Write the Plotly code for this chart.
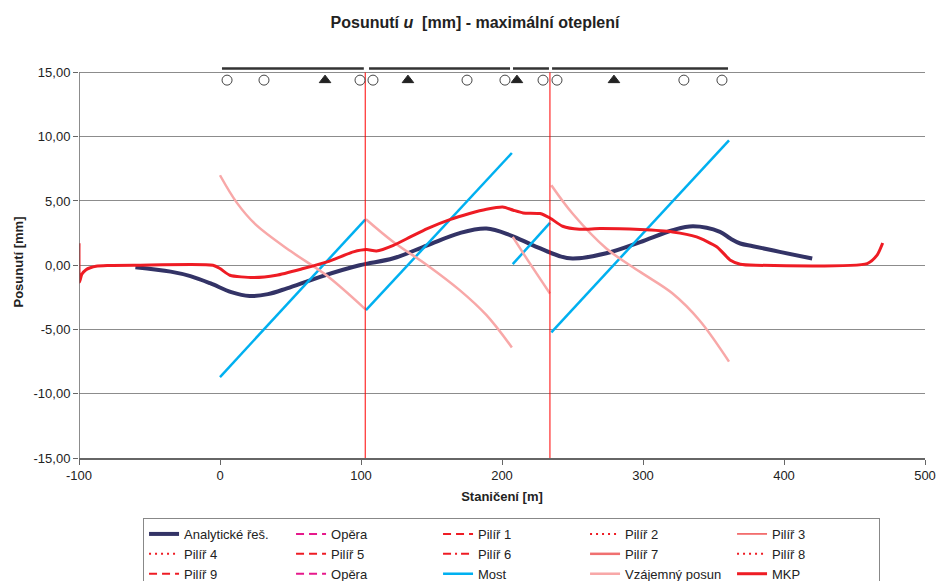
import plotly.graph_objects as go

# ---------------- data ----------------
analytic_x = [-60, -35, -21, -7, 8, 21, 34, 47.5, 71, 99, 123, 147, 170, 189, 206, 222, 241, 250, 274, 298, 321, 335.5, 354.6, 362, 369, 378, 397, 420]
analytic_y = [-0.16, -0.5, -0.85, -1.4, -2.1, -2.4, -2.25, -1.8, -0.9, 0.0, 0.54, 1.55, 2.5, 2.85, 2.33, 1.55, 0.7, 0.52, 0.93, 1.8, 2.72, 3.03, 2.6, 2.07, 1.69, 1.48, 1.04, 0.52]

mkp_x = [-100, -99.6, -98, -95, -92, -88, -80, -60, -5, 0, 7, 23.6, 40, 59, 76, 94.6, 104, 111, 123, 135, 147, 163, 177, 189, 200.5, 208, 215, 227, 234, 243, 255, 269.5, 298, 321, 338, 352.5, 362, 369, 380, 459, 466, 470]
mkp_y = [1.7, -1.3, -0.7, -0.35, -0.2, -0.08, -0.02, 0, 0, -0.26, -0.78, -0.96, -0.78, -0.26, 0.26, 1.04, 1.22, 1.11, 1.55, 2.2, 2.85, 3.55, 4.02, 4.35, 4.53, 4.28, 4.07, 4.02, 3.67, 3.03, 2.8, 2.85, 2.77, 2.59, 2.2, 1.42, 0.39, 0.08, 0.0, 0.13, 0.78, 1.73]

most_x = [0, 103, None, 103.5, 207, None, 207.6, 234, None, 235, 361]
most_y = [-8.7, 3.55, None, -3.5, 8.73, None, 0.08, 3.3, None, -5.23, 9.72]

posun_x = [0, 12, 25, 50, 75, 103, None, 103.5, 123, 147, 170, 189, 207, None, 207.6, 220, 234, None, 235, 250, 274, 298, 321, 340, 361]
posun_y = [7.0, 4.85, 3.2, 1.1, -0.75, -3.42, None, 3.58, 1.81, 0.0, -1.94, -3.89, -6.4, None, 2.2, 0.1, -2.2, None, 6.22, 4.02, 1.3, -0.52, -2.2, -4.28, -7.5]

joint_x = [103, 103, None, 234, 234]
joint_y = [-15, 15, None, -15, 15]

deck_x = [1.4, 102, None, 105.7, 205.7, None, 207.8, 233.3, None, 235.5, 360.3]
deck_y = [15.3, 15.3, None, 15.3, 15.3, None, 15.3, 15.3, None, 15.3, 15.3]

bearing_x = [5.0, 31.2, 99.3, 108.5, 175.2, 202.1, 229.1, 239.0, 329.0, 356.0]
bearing_y = [14.4] * len(bearing_x)
fixed_x = [74.5, 133.3, 210.6, 279.4]
fixed_y = [14.4] * len(fixed_x)

y_tickvals = [-15, -10, -5, 0, 5, 10, 15]
y_ticktext = ["-15,00", "-10,00", "-5,00", "0,00", "5,00", "10,00", "15,00"]
x_tickvals = [-100, 0, 100, 200, 300, 400, 500]
x_ticktext = ["-100", "0", "100", "200", "300", "400", "500"]

FONT = "Liberation Sans, Arial, sans-serif"
RED = "#ee1c24"
DASH = "8px,5px"
DOT = "2px,4px"
DASHDOT = "8px,4px,2px,4px"

fig = go.Figure()

def legend_only(name, color, width, dash):
    fig.add_trace(go.Scatter(x=[None], y=[None], mode="lines", name=name,
                             line=dict(color=color, width=width, dash=dash)))

fig.add_trace(go.Scatter(x=analytic_x, y=analytic_y, mode="lines", name="Analytické řeš.",
                         line=dict(color="#333366", width=4, shape="spline")))
legend_only("Opěra", "#e6198c", 2, DASH)
legend_only("Pilíř 1", RED, 2, DASH)
legend_only("Pilíř 2", RED, 2, DOT)
legend_only("Pilíř 3", "#f05050", 1.5, "solid")
legend_only("Pilíř 4", RED, 2, DOT)
legend_only("Pilíř 5", RED, 2, DASH)
legend_only("Pilíř 6", RED, 2, DASHDOT)
legend_only("Pilíř 7", "#f07070", 2.5, "solid")
legend_only("Pilíř 8", RED, 2, DOT)
legend_only("Pilíř 9", RED, 2, DASH)
legend_only("Opěra", "#e6198c", 2, DASH)
fig.add_trace(go.Scatter(x=most_x, y=most_y, mode="lines", name="Most",
                         line=dict(color="#00b0f0", width=2.5)))
fig.add_trace(go.Scatter(x=posun_x, y=posun_y, mode="lines", name="Vzájemný posun",
                         line=dict(color="#f8a8a8", width=2.5, shape="spline")))
fig.add_trace(go.Scatter(x=mkp_x, y=mkp_y, mode="lines", name="MKP",
                         line=dict(color=RED, width=3, shape="spline", smoothing=0.6)))
fig.add_trace(go.Scatter(x=joint_x, y=joint_y, mode="lines", showlegend=False,
                         line=dict(color="#ff0000", width=1)))
fig.add_trace(go.Scatter(x=deck_x, y=deck_y, mode="lines", showlegend=False,
                         line=dict(color="#333333", width=2.5)))
fig.add_trace(go.Scatter(x=bearing_x, y=bearing_y, mode="markers", showlegend=False, cliponaxis=False,
                         marker=dict(symbol="circle", size=10, color="white",
                                     line=dict(color="#444444", width=1))))
fig.add_trace(go.Scatter(x=fixed_x, y=fixed_y, mode="markers", showlegend=False, cliponaxis=False,
                         marker=dict(symbol="triangle-up", size=10, color="#222222",
                                     line=dict(color="#222222", width=1))))

fig.add_shape(type="line", xref="x", yref="y", x0=-100, x1=-100, y0=-15, y1=15,
              line=dict(color="#666666", width=1.5), layer="above")

fig.update_layout(
    width=936, height=581,
    margin=dict(l=79, r=11, t=66, b=123, autoexpand=False),
    paper_bgcolor="white", plot_bgcolor="white",
    font=dict(family=FONT, size=13, color="#222222"),
    title=dict(text="<b>Posunutí <i>u</i>  [mm] - maximální oteplení</b>",
               x=0.5075, xref="container", xanchor="center",
               y=1 - 22 / 581, yref="container", yanchor="middle",
               font=dict(family=FONT, size=16, color="#222222")),
    xaxis=dict(range=[-100, 500], tickvals=x_tickvals, ticktext=x_ticktext,
               showgrid=False, zeroline=False, showline=True, linecolor="#666666", linewidth=1.5,
               ticks="outside", ticklen=5, tickcolor="#666666",
               title=dict(text="<b>Staničení [m]</b>", standoff=10, font=dict(size=13))),
    yaxis=dict(range=[-15, 15.5], tickvals=y_tickvals, ticktext=y_ticktext,
               showgrid=True, gridcolor="#8c8c8c", gridwidth=1, zeroline=False, showline=False,
               ticks="outside", ticklen=5, tickcolor="#666666",
               title=dict(text="<b>Posunutí [mm]</b>", standoff=6, font=dict(size=13))),
    legend=dict(orientation="h", x=0.0757, xanchor="left", y=-0.153, yanchor="top",
                bgcolor="white", bordercolor="#888888", borderwidth=1,
                font=dict(family=FONT, size=13, color="#222222"),
                entrywidth=102, entrywidthmode="pixels", tracegroupgap=0),
)

fig.write_html("out.html", config={"displayModeBar": False},
               post_script="document.body.style.margin='0';")
